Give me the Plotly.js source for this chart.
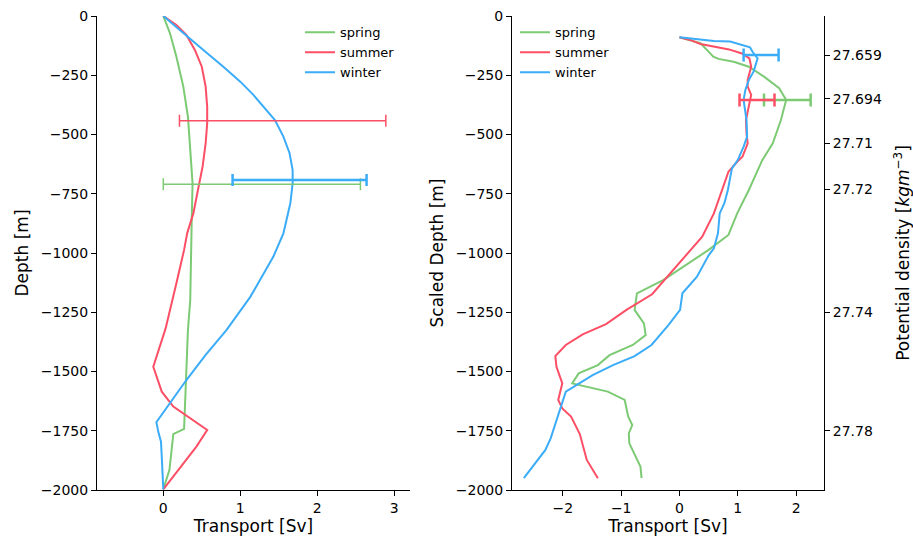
<!DOCTYPE html>
<html>
<head>
<meta charset="utf-8">
<script src="https://cdn.plot.ly/plotly-3.0.1.min.js"></script>
<style>html,body{margin:0;padding:0;background:#fff;}#chart{width:913px;height:540px;}</style>
</head>
<body>
<div id="chart"></div>
<script>
// ---- Left panel (Depth) ----
const leftSpringX = [0, 0.087, 0.17, 0.26, 0.32, 0.35, 0.38, 0.37, 0.36, 0.35, 0.32, 0.30, 0.27, 0.13, 0.11, 0.08, 0];
const leftSpringD = [0, -73, -172, -298, -425, -565, -706, -847, -987, -1198, -1325, -1508, -1742, -1764, -1831, -1915, -1997];
const leftSummerX = [0, 0.17, 0.30, 0.41, 0.50, 0.55, 0.57, 0.57, 0.55, 0.51, 0.45, 0.39, 0.31, 0.27, 0.17, 0.03, -0.13, -0.02, 0.13, 0.57, 0.43, 0];
const leftSummerD = [0, -38, -80, -143, -214, -298, -383, -453, -537, -636, -734, -833, -917, -987, -1128, -1318, -1480, -1585, -1648, -1747, -1817, -1997];
const leftWinterX = [0, 0.26, 0.52, 0.78, 1.00, 1.17, 1.32, 1.45, 1.56, 1.64, 1.68, 1.68, 1.65, 1.59, 1.56, 1.43, 1.30, 1.13, 0.82, 0.55, 0.30, 0.10, -0.09, -0.06, -0.03, -0.02, -0.01, 0];
const leftWinterD = [0, -73, -143, -214, -277, -333, -390, -439, -509, -579, -650, -706, -790, -875, -917, -1015, -1086, -1185, -1325, -1430, -1536, -1625, -1714, -1761, -1796, -1859, -1930, -1997];
// error bars (center, half-width, depth)
const leftErrCenter = {spring: 1.28, summer: 1.55, winter: 1.77};
const leftErrHalf   = {spring: 1.28, summer: 1.34, winter: 0.87};
const leftErrDepth  = {spring: -710, summer: -442, winter: -692};

// ---- Right panel (Scaled depth) ----
const rightSpringX = [0, 0.36, 0.47, 0.58, 0.67, 0.93, 1.19, 1.45, 1.71, 1.83, 1.74, 1.60, 1.42, 1.19, 0.99, 0.84, 0.50, -0.28, -0.73, -0.77, -0.61, -0.58, -0.80, -1.20, -1.40, -1.73, -1.84, -1.72, -1.23, -0.94, -0.88, -0.81, -0.87, -0.86, -0.67, -0.65];
const rightSpringD = [-90, -115, -143, -172, -181, -193, -214, -256, -305, -354, -439, -537, -608, -734, -833, -924, -987, -1114, -1170, -1240, -1297, -1346, -1388, -1431, -1473, -1508, -1550, -1557, -1585, -1620, -1690, -1726, -1761, -1803, -1901, -1950];
const rightSummerX = [0, 0.18, 0.36, 0.59, 0.85, 1.07, 1.20, 1.23, 1.17, 1.17, 1.23, 1.20, 1.14, 1.15, 1.17, 1.08, 0.99, 0.84, 0.73, 0.59, 0.39, 0.19, -0.11, -0.47, -0.91, -1.26, -1.66, -1.95, -2.13, -2.11, -2.01, -2.08, -2.01, -1.86, -1.71, -1.59, -1.40];
const rightSummerD = [-90, -101, -118, -129, -141, -158, -179, -214, -270, -298, -333, -368, -439, -495, -537, -594, -615, -657, -734, -833, -931, -987, -1072, -1174, -1240, -1300, -1343, -1388, -1435, -1480, -1550, -1620, -1656, -1690, -1764, -1873, -1950];
const rightWinterX = [0, 0.36, 0.59, 0.87, 1.05, 1.21, 1.25, 1.30, 1.34, 1.31, 1.27, 1.19, 1.13, 1.10, 1.13, 1.15, 1.16, 1.10, 1.00, 0.90, 0.83, 0.77, 0.69, 0.66, 0.59, 0.50, 0.30, 0.05, 0.01, -0.19, -0.48, -0.77, -1.14, -1.49, -1.95, -2.09, -2.21, -2.30, -2.67];
const rightWinterD = [-90, -98, -105, -108, -120, -132, -150, -165, -179, -203, -235, -270, -312, -354, -397, -439, -509, -551, -608, -643, -734, -790, -833, -917, -980, -1010, -1100, -1170, -1240, -1304, -1388, -1435, -1473, -1515, -1585, -1690, -1782, -1831, -1950];
const rightErrCenter = {spring: 1.85, summer: 1.33, winter: 1.40};
const rightErrHalf   = {spring: 0.40, summer: 0.30, winter: 0.30};
const rightErrDepth  = {spring: -354, summer: -354, winter: -165};

// density axis
const densityLabels = ['27.659', '27.694', '27.71', '27.72', '27.74', '27.78'];
const densityDepths = [-165, -350, -536, -730, -1250, -1750];

const depthTicks = [0, -250, -500, -750, -1000, -1250, -1500, -1750, -2000];
const leftXTicks = [0, 1, 2, 3];
const rightXTicks = [-2, -1, 0, 1, 2];

const seasons = ['spring', 'summer', 'winter'];
const colors = {spring: '#7dca74', summer: '#fc4f66', winter: '#3bacf8'};

const leftData = {
  spring: [leftSpringX, leftSpringD],
  summer: [leftSummerX, leftSummerD],
  winter: [leftWinterX, leftWinterD]
};
const rightData = {
  spring: [rightSpringX, rightSpringD],
  summer: [rightSummerX, rightSummerD],
  winter: [rightWinterX, rightWinterD]
};

const traces = [];
seasons.forEach(s => {
  traces.push({x: leftData[s][0], y: leftData[s][1], type: 'scatter', mode: 'lines', name: s,
    line: {color: colors[s], width: 2}, xaxis: 'x', yaxis: 'y', legend: 'legend', hoverinfo: 'skip'});
});
seasons.forEach(s => {
  traces.push({x: rightData[s][0], y: rightData[s][1], type: 'scatter', mode: 'lines', name: s,
    line: {color: colors[s], width: 2}, xaxis: 'x2', yaxis: 'y2', legend: 'legend2', hoverinfo: 'skip'});
});
seasons.forEach(s => {
  traces.push({x: [leftErrCenter[s]], y: [leftErrDepth[s]], type: 'scatter', mode: 'markers',
    marker: {size: 1, opacity: 0}, showlegend: false, xaxis: 'x', yaxis: 'y', hoverinfo: 'skip',
    error_x: {type: 'data', array: [leftErrHalf[s]], color: colors[s], thickness: s === 'winter' ? 2.5 : 1.5, width: 6}});
});
seasons.forEach(s => {
  traces.push({x: [rightErrCenter[s]], y: [rightErrDepth[s]], type: 'scatter', mode: 'markers',
    marker: {size: 1, opacity: 0}, showlegend: false, xaxis: 'x2', yaxis: 'y2', hoverinfo: 'skip',
    error_x: {type: 'data', array: [rightErrHalf[s]], color: colors[s], thickness: 2.5, width: 6.5}});
});
// carrier for the density axis
traces.push({x: [null], y: [null], type: 'scatter', mode: 'none', showlegend: false,
  xaxis: 'x2', yaxis: 'y3', hoverinfo: 'skip'});

const font = {family: 'DejaVu Sans, sans-serif', size: 14, color: '#000'};
const axBase = {showgrid: false, zeroline: false, showline: true, linecolor: '#000', linewidth: 1,
  ticks: 'outside', ticklen: 5, tickwidth: 1, tickcolor: '#000', tickfont: {size: 14, color: '#000'}};

const layout = {
  width: 913, height: 540,
  margin: {l: 0, r: 0, t: 16, b: 50},
  paper_bgcolor: '#fff', plot_bgcolor: '#fff',
  font: font,
  showlegend: true,
  xaxis: Object.assign({}, axBase, {domain: [97/913, 410/913], range: [-0.861, 3.204],
    tickvals: leftXTicks, title: {text: 'Transport [Sv]', font: {size: 17}, standoff: 5}, anchor: 'y'}),
  yaxis: Object.assign({}, axBase, {domain: [0, 1], range: [-2000, 0], tickvals: depthTicks,
    title: {text: 'Depth [m]', font: {size: 17}, standoff: 7}, anchor: 'x'}),
  xaxis2: Object.assign({}, axBase, {domain: [512/913, 824/913], range: [-2.873, 2.479],
    tickvals: rightXTicks, title: {text: 'Transport [Sv]', font: {size: 17}, standoff: 5}, anchor: 'y2'}),
  yaxis2: Object.assign({}, axBase, {domain: [0, 1], range: [-2000, 0], tickvals: depthTicks,
    title: {text: 'Scaled Depth [m]', font: {size: 17}, standoff: 7}, anchor: 'x2'}),
  yaxis3: Object.assign({}, axBase, {range: [-2000, 0], overlaying: 'y2', side: 'right', anchor: 'x2',
    tickvals: densityDepths, ticktext: densityLabels,
    title: {text: 'Potential density [<i>kgm</i><sup>−3</sup>]', font: {size: 17}, standoff: 18}}),
  legend: {x: 300/913, y: 0.997, xanchor: 'left', yanchor: 'top', bgcolor: 'rgba(0,0,0,0)',
    font: {size: 13, color: '#000'}, tracegroupgap: 0},
  legend2: {x: 515/913, y: 0.997, xanchor: 'left', yanchor: 'top', bgcolor: 'rgba(0,0,0,0)',
    font: {size: 13, color: '#000'}, tracegroupgap: 0}
};

Plotly.newPlot('chart', traces, layout, {staticPlot: true, displayModeBar: false});
</script>
</body>
</html>
